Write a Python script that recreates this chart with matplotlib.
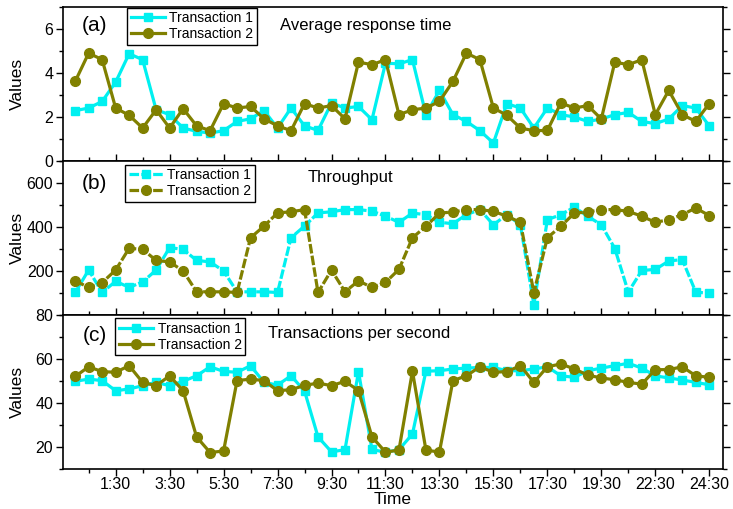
import numpy as np
import matplotlib
matplotlib.use("Agg")
import matplotlib.pyplot as plt
from matplotlib.ticker import FixedLocator, MultipleLocator

plt.rcParams['font.family'] = ['Liberation Sans', 'DejaVu Sans']

# ---- data ----
time_ticks = [3, 7, 11, 15, 19, 23, 27, 31, 35, 39, 43, 47]
time_labels = ["1:30", "3:30", "5:30", "7:30", "9:30", "11:30", "13:30",
               "15:30", "17:30", "19:30", "22:30", "24:30"]
series_names = ["Transaction 1", "Transaction 2"]

resp_t1 = [2.29, 2.41, 2.71, 3.59, 4.88, 4.61, 2.33, 2.11, 1.5, 1.35, 1.27, 1.38,
           1.8, 1.92, 2.29, 1.5, 2.41, 1.6, 1.39, 2.64, 2.41, 2.48, 1.88, 4.45,
           4.42, 4.61, 2.11, 3.21, 2.11, 1.8, 1.38, 0.82, 2.61, 2.41, 1.5, 2.41,
           2.11, 2.0, 1.8, 1.91, 2.11, 2.21, 1.8, 1.7, 1.91, 2.52, 2.41, 1.6]
resp_t2 = [3.62, 4.91, 4.61, 2.41, 2.08, 1.5, 2.33, 1.5, 2.38, 1.6, 1.38, 2.61,
           2.41, 2.48, 1.92, 1.6, 1.38, 2.61, 2.41, 2.52, 1.92, 4.5, 4.38, 4.61,
           2.11, 2.33, 2.41, 2.71, 3.62, 4.91, 4.61, 2.41, 2.08, 1.5, 1.38, 1.39,
           2.64, 2.41, 2.52, 1.91, 4.5, 4.38, 4.61, 2.11, 3.21, 2.11, 1.8, 2.61]

thr_t1 = [102, 204, 102, 153, 125, 150, 204, 306, 298, 248, 241, 200,
          105, 105, 105, 102, 351, 404, 464, 469, 479, 479, 472, 449,
          421, 463, 456, 421, 415, 456, 479, 410, 456, 410, 47, 433,
          456, 490, 448, 410, 302, 104, 202, 207, 245, 252, 104, 98]
thr_t2 = [155, 125, 147, 204, 303, 298, 248, 241, 200, 105, 105, 105,
          102, 351, 404, 464, 469, 479, 102, 204, 105, 155, 125, 148,
          207, 351, 403, 463, 468, 479, 479, 471, 449, 421, 101, 351,
          403, 463, 468, 479, 479, 471, 449, 421, 433, 456, 486, 452]

tps_t1 = [49.8, 50.8, 50.1, 45.5, 46.3, 47.8, 49.3, 47.8, 49.8, 52.3, 56.4, 54.3,
          53.9, 56.9, 49.3, 48.1, 52.3, 45.4, 24.5, 17.7, 18.7, 54.2, 18.8, 17.5,
          18.7, 25.8, 54.4, 54.6, 55.4, 55.8, 56.1, 56.1, 54.6, 54.6, 55.4, 56.4,
          52.3, 51.6, 54.6, 55.8, 56.9, 58.0, 55.8, 52.3, 51.3, 50.4, 49.3, 48.2]
tps_t2 = [52.0, 56.4, 54.2, 53.9, 56.9, 49.3, 47.8, 52.3, 45.5, 24.5, 17.4, 18.1,
          50.1, 50.8, 50.1, 45.5, 46.0, 47.9, 49.0, 47.8, 49.8, 45.6, 24.5, 17.6,
          18.5, 54.4, 18.5, 17.6, 50.1, 52.3, 56.4, 53.9, 54.2, 56.9, 49.3, 56.4,
          57.7, 55.4, 52.6, 51.3, 50.5, 49.3, 48.5, 55.1, 55.1, 56.4, 52.3, 51.6]

x = np.arange(len(resp_t1))

C1 = '#00F0F0'
C2 = '#808000'

fig = plt.figure(figsize=(7.33, 5.09), dpi=100)
gs = fig.add_gridspec(3, 1, left=0.086, right=0.986, top=0.986, bottom=0.079, hspace=0)
axes = [fig.add_subplot(gs[i]) for i in range(3)]

panels = [
    (resp_t1, resp_t2, '(a)', 'Average response time', (0, 7), [0, 2, 4, 6], 1, '-',
     (0.097, 0.997), (0.329, 0.883), 0.883),
    (thr_t1, thr_t2, '(b)', 'Throughput', (0, 700), [200, 400, 600], 100, (0, (3, 0.7)),
     (0.094, 0.977), (0.371, 0.89), 0.857),
    (tps_t1, tps_t2, '(c)', 'Transactions per second', (10, 80), [20, 40, 60, 80], 10, '-',
     (0.079, 0.977), (0.311, 0.88), 0.863),
]

for k, (ax, p) in enumerate(zip(axes, panels)):
    s1, s2, tag, title, ylim, yt, ymin, ls, legpos, titlepos, tagy = p
    ax.plot(x, s1, color=C1, lw=2.3, ls=ls, marker='s', ms=6.3, label=series_names[0])
    ax.plot(x, s2, color=C2, lw=2.3, ls=ls, marker='o', ms=7, label=series_names[1])
    ax.set_xlim(-0.9, 48)
    ax.set_ylim(*ylim)
    ax.yaxis.set_major_locator(FixedLocator(yt))
    ax.yaxis.set_minor_locator(MultipleLocator(ymin))
    ax.xaxis.set_major_locator(FixedLocator(time_ticks))
    ax.xaxis.set_minor_locator(FixedLocator([1] + [t + 2 for t in time_ticks[:-1]]))
    ax.set_ylabel('Values', fontsize=12.5)
    ax.tick_params(axis='y', which='both', left=True, right=True, direction='out',
                   labelsize=11.5, pad=2)
    ax.tick_params(axis='y', which='major', length=5, width=1)
    ax.tick_params(axis='y', which='minor', length=3, width=1)
    if k < 2:
        ax.tick_params(axis='x', which='both', bottom=True, top=False, direction='in',
                       labelbottom=False)
    else:
        ax.tick_params(axis='x', which='both', bottom=True, top=False, direction='out',
                       labelsize=11.5, pad=1)
        ax.set_xticklabels(time_labels)
        ax.set_xlabel('Time', fontsize=12.5, labelpad=0)
    ax.tick_params(axis='x', which='major', length=5, width=1)
    ax.tick_params(axis='x', which='minor', length=3, width=1)
    for sp in ax.spines.values():
        sp.set_linewidth(1.2)
    ax.text(0.048, tagy, tag, transform=ax.transAxes, fontsize=15,
            ha='center', va='center')
    ax.text(titlepos[0], titlepos[1], title, transform=ax.transAxes, fontsize=12,
            ha='left', va='center')
    leg = ax.legend(loc='upper left', bbox_to_anchor=legpos, borderaxespad=0,
                    fontsize=10, frameon=True, fancybox=False, framealpha=1,
                    edgecolor='black', handlelength=2.5, handletextpad=0.3,
                    borderpad=0.25, labelspacing=0.15)
    leg.get_frame().set_linewidth(1.0)

for ax in axes:
    ax.yaxis.set_label_coords(-0.058, 0.5)

fig.savefig('out.png', dpi=100)
